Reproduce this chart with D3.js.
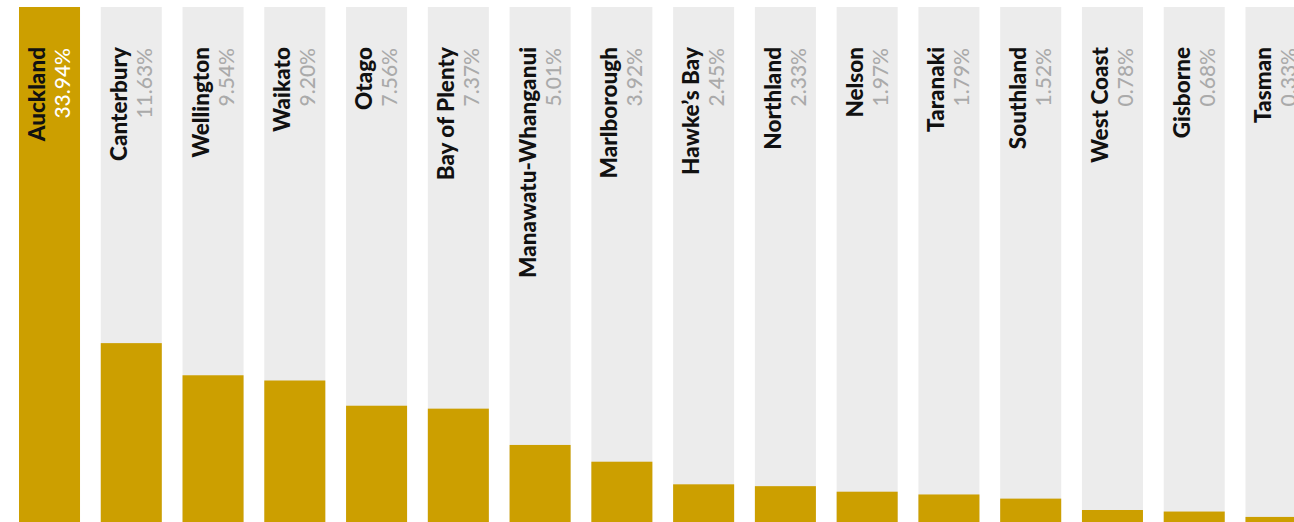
<!DOCTYPE html>
<html lang="en">
<head>
    <meta charset="UTF-8">
    <title>Share by region</title>
    <script src="https://d3js.org/d3.v7.min.js"></script>
    <style>
        body {
            margin: 0;
            padding: 0;
            background-color: #fff;
            overflow: hidden;
            font-family: Lato, "Open Sans", sans-serif;
        }
        .name {
            font-size: 22.5px;
            font-weight: 900;
            fill: #111;
        }
        .pct {
            font-size: 21px;
            font-weight: 500;
            fill: #aaaaaa;
        }
    </style>
</head>
<body>
    <div id="chart"></div>

    <script>
        // regions and their share (%)
        const regions = ["Auckland", "Canterbury", "Wellington", "Waikato", "Otago", "Bay of Plenty",
            "Manawatu-Whanganui", "Marlborough", "Hawke\u2019s Bay", "Northland", "Nelson", "Taranaki",
            "Southland", "West Coast", "Gisborne", "Tasman"];
        const shares = [33.94, 11.63, 9.54, 9.20, 7.56, 7.37, 5.01, 3.92, 2.45, 2.33, 1.97, 1.79,
            1.52, 0.78, 0.68, 0.33];

        const data = regions.map((r, i) => ({ region: r, share: shares[i] }));

        const width = 1320, height = 522;
        const plotTop = 7;

        const svg = d3.select("#chart").append("svg")
            .attr("width", width)
            .attr("height", height);

        const x = d3.scaleBand()
            .domain(regions)
            .range([19, 1306.5])
            .paddingInner(0.2537)
            .paddingOuter(0);

        // scale runs a little past the column top, the biggest bar gets clipped
        const y = d3.scaleLinear().domain([0, d3.max(shares)]).range([height, 0]);

        svg.append("clipPath").attr("id", "plot")
            .append("rect")
            .attr("x", 0).attr("y", plotTop)
            .attr("width", width).attr("height", height - plotTop);

        const g = svg.append("g").attr("clip-path", "url(#plot)");

        g.selectAll("rect.bg")
            .data(data)
            .join("rect")
            .attr("class", "bg")
            .attr("x", d => x(d.region))
            .attr("y", plotTop)
            .attr("width", x.bandwidth())
            .attr("height", height - plotTop)
            .attr("fill", "#ececec");

        g.selectAll("rect.bar")
            .data(data)
            .join("rect")
            .attr("class", "bar")
            .attr("x", d => x(d.region))
            .attr("y", d => y(d.share))
            .attr("width", x.bandwidth())
            .attr("height", d => height - y(d.share))
            .attr("fill", "#cc9f00");

        const labels = svg.selectAll("g.label")
            .data(data)
            .join("g")
            .attr("class", "label");

        labels.append("text")
            .attr("class", "name")
            .attr("transform", d => `translate(${x(d.region) + 26},47) rotate(-90)`)
            .attr("text-anchor", "end")
            .text(d => d.region);

        labels.append("text")
            .attr("class", "pct")
            .attr("transform", d => `translate(${x(d.region) + 51},48) rotate(-90)`)
            .attr("text-anchor", "end")
            .style("fill", (d, i) => i === 0 ? "#fff" : null)
            .text(d => d.share.toFixed(2) + "%");
    </script>
</body>
</html>
